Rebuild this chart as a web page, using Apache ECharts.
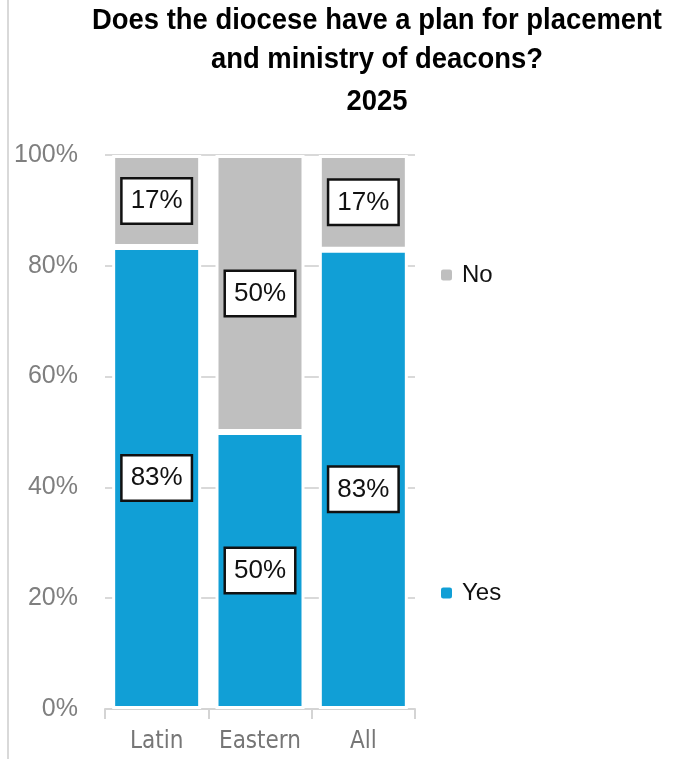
<!DOCTYPE html>
<html>
<head>
<meta charset="utf-8">
<script src="https://cdn.jsdelivr.net/npm/echarts@6/dist/echarts.min.js"></script>
<style>html,body{margin:0;padding:0;background:#fff;}#c{width:679px;height:759px;}</style>
</head>
<body>
<div id="c"></div>
<script>
const titleLines = ['Does the diocese have a plan for placement', 'and ministry of deacons?', '2025'];
const categories = ['Latin', 'Eastern', 'All'];
const yesValues = [83.4, 50.0, 82.9];
const noValues = [16.6, 50.0, 17.1];
const yTicks = [0, 20, 40, 60, 80, 100];

const titleFont = 'bold 29px "Liberation Sans", Arial, sans-serif';
const mctx = document.createElement('canvas').getContext('2d');
mctx.font = titleFont;
const titleScale = 570 / mctx.measureText(titleLines[0]).width;
const titleY = [21, 60, 102];

const chart = echarts.init(document.getElementById('c'), null, {renderer: 'canvas'});
const labelStyle = {
  show: true,
  position: 'inside',
  formatter: p => Math.round(p.value) + '%',
  fontFamily: 'Liberation Sans, Arial, sans-serif',
  fontSize: 26,
  color: '#111',
  backgroundColor: '#fff',
  borderColor: '#111',
  borderWidth: 2.5,
  padding: [8, 8, 7, 8],
  lineHeight: 28
};
const yesData = yesValues.map((v, i) => i === 2 ? {value: v, label: {offset: [0, 10]}} : v);
chart.setOption({
  animation: false,
  graphic: [
    {type: 'line', shape: {x1: 8, y1: 0, x2: 8, y2: 759}, style: {stroke: '#cccccc', lineWidth: 1.5}},
    ...titleLines.map((t, i) => ({
      type: 'text', x: 377, y: titleY[i], scaleX: titleScale,
      style: {text: t, font: titleFont, fill: '#000', textAlign: 'center', textVerticalAlign: 'middle'}
    }))
  ],
  legend: [
    {data: ['No'], orient: 'vertical', left: 439, top: 263, itemWidth: 13, itemHeight: 13, itemGap: 0, padding: 0,
     textStyle: {fontFamily: 'Liberation Sans, Arial, sans-serif', fontSize: 24, color: '#111', padding: [0, 0, 0, 4]}},
    {data: ['Yes'], orient: 'vertical', left: 439, top: 581, itemWidth: 13, itemHeight: 13, itemGap: 0, padding: 0,
     textStyle: {fontFamily: 'Liberation Sans, Arial, sans-serif', fontSize: 24, color: '#111', padding: [0, 0, 0, 4]}}
  ],
  grid: {left: 105, right: 264, top: 155, bottom: 50, containLabel: false},
  xAxis: {
    type: 'category', data: categories,
    axisLine: {lineStyle: {color: '#d4d4d4', width: 2}},
    axisTick: {show: true, length: 10, lineStyle: {color: '#d4d4d4', width: 2}},
    axisLabel: {interval: 0, fontFamily: 'DejaVu Sans Condensed, sans-serif', fontSize: 24, color: '#767676', margin: 21}
  },
  yAxis: {
    type: 'value', min: 0, max: 100, interval: 20,
    axisLine: {show: false}, axisTick: {show: false},
    splitLine: {lineStyle: {color: '#d9d9d9', width: 2}},
    axisLabel: {formatter: v => yTicks.includes(v) ? v + '%' : '', fontFamily: 'Liberation Sans, Arial, sans-serif', fontSize: 25, color: '#7f7f7f', margin: 27}
  },
  series: [
    {name: 'Yes', type: 'bar', stack: 't', data: yesData, barWidth: 89,
     itemStyle: {color: '#119fd6', borderColor: '#fff', borderWidth: 3}, label: labelStyle},
    {name: 'No', type: 'bar', stack: 't', data: noValues, barWidth: 89,
     itemStyle: {color: '#bfbfbf', borderColor: '#fff', borderWidth: 3}, label: labelStyle}
  ]
});
</script>
</body>
</html>
